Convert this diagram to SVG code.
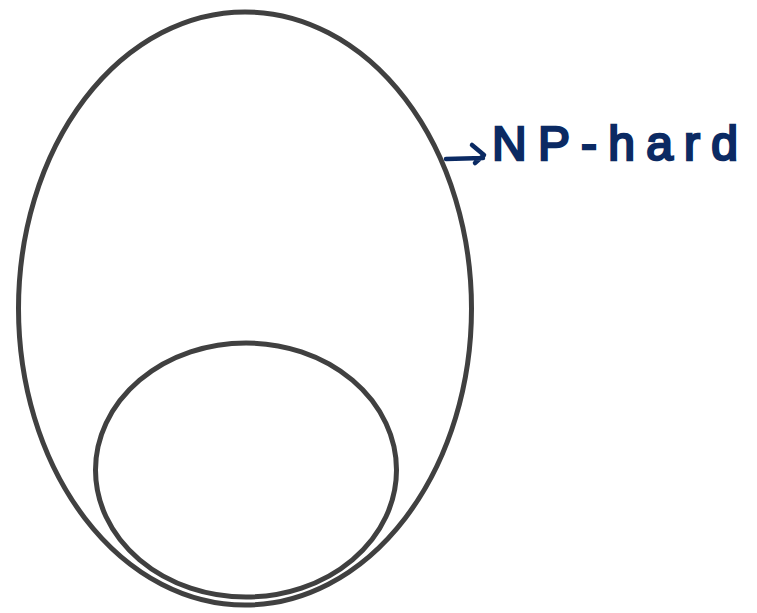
<svg xmlns="http://www.w3.org/2000/svg" width="757" height="613" viewBox="0 0 757 613">
<style>
.set{fill:none;stroke:#404040;stroke-width:5}
.ink{fill:none;stroke:#0b2a63;stroke-width:4.5;stroke-linecap:round;stroke-linejoin:round}
.lbl{font-family:"Liberation Sans",Arial,sans-serif;font-size:48px;fill:#0b2a63;stroke:#0b2a63;stroke-width:2.5;letter-spacing:6px}
</style>
<rect width="757" height="613" fill="#fff"/>
<g id="np-hard-set"><ellipse class="set" cx="245" cy="308.5" rx="226.5" ry="296.5"/></g>
<g id="inner-set"><ellipse class="set" cx="246" cy="470" rx="150.5" ry="127"/></g>
<g id="connectors">
<path class="ink" d="M446 159 L483 158 M472 145 L484 155 L475 163"/>
</g>
<g id="label"><text class="lbl" x="492" y="160" textLength="252" lengthAdjust="spacing">NP-hard</text></g>
</svg>
